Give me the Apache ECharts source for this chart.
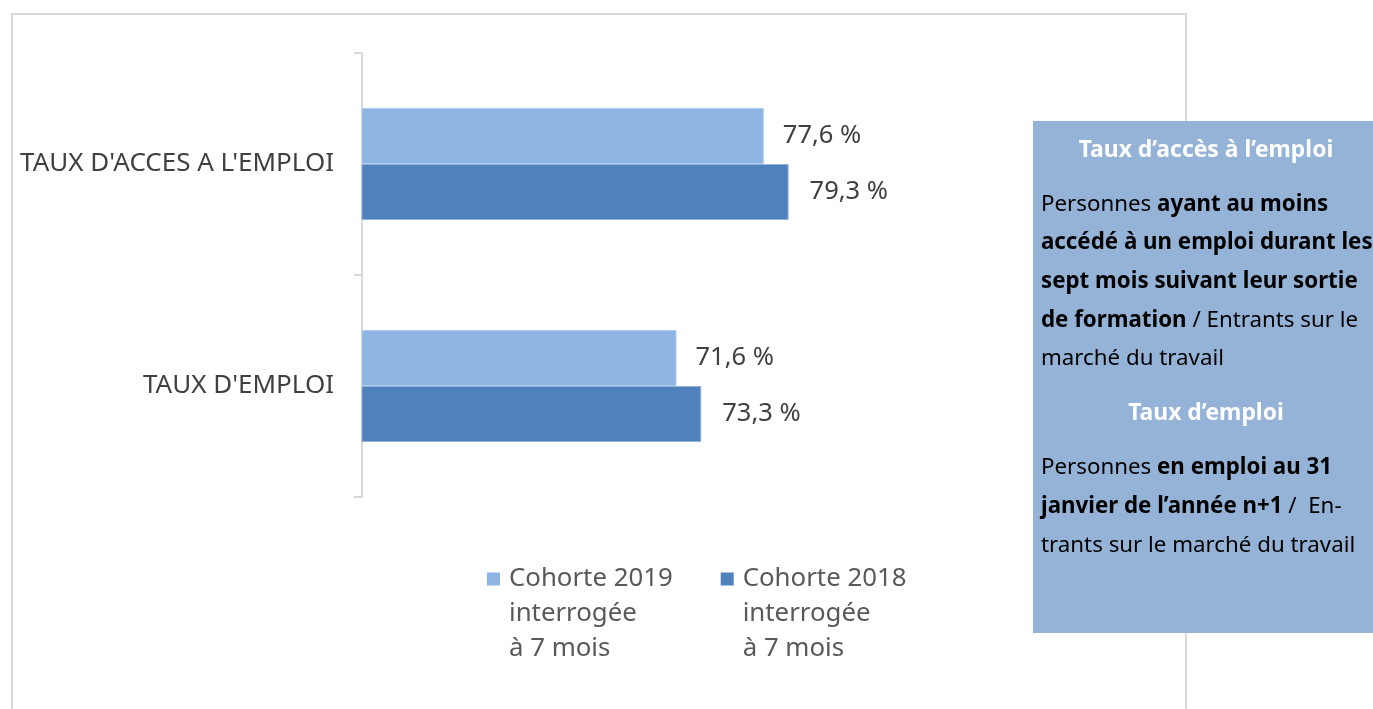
<!DOCTYPE html>
<html>
<head>
<meta charset="utf-8">
<script src="https://cdn.jsdelivr.net/npm/echarts@6/dist/echarts.min.js"></script>
<style>
html,body{margin:0;padding:0;background:#fff;}
#main{width:1373px;height:709px;}
</style>
</head>
<body>
<div id="main"></div>
<script>
var categories = ["TAUX D'ACCES A L'EMPLOI", "TAUX D'EMPLOI"];
var seriesNames = ["Cohorte 2019\ninterrogée\nà 7 mois", "Cohorte 2018\ninterrogée\nà 7 mois"];
var cohorte2019 = [77.6, 71.6];
var cohorte2018 = [79.3, 73.3];
var colors = ['#8EB4E3', '#4F81BD'];

var FONT = "'Noto Sans', 'Open Sans', sans-serif";

function fmt(p) { return p.value.toFixed(1).replace('.', ',') + ' %'; }

var chart = echarts.init(document.getElementById('main'));

var boxX = 1033, boxY = 121, boxW = 340, boxH = 512;
var tx = 1041;
var BS = 22.3;
var bodyRich = {
  n: { fontFamily: FONT, fontSize: BS, color: '#000', fontWeight: 'normal' },
  b: { fontFamily: FONT, fontSize: BS, color: '#000', fontWeight: 'bold' }
};
function line(y, str) {
  return { type: 'text', x: tx, y: y, z: 12,
    style: { text: str, rich: bodyRich, fontFamily: FONT, fontSize: BS, fill: '#000', verticalAlign: 'middle' } };
}
function title(y, str) {
  return { type: 'text', z: 12, x: boxX + boxW / 2 + 3, y: y,
    style: { text: str, fontFamily: FONT, fontSize: 22.9, fontWeight: 'bold', fill: '#fff', align: 'center', verticalAlign: 'middle' } };
}

var option = {
  backgroundColor: '#fff',
  animation: false,
  grid: { left: 362, right: 283, top: 53, bottom: 212, containLabel: false },
  xAxis: { type: 'value', min: 50, max: 100, show: false },
  yAxis: {
    type: 'category', data: categories, inverse: true,
    axisLine: { show: true, lineStyle: { color: '#d9d9d9', width: 2 } },
    axisTick: { show: true, length: 8, lineStyle: { color: '#d9d9d9', width: 2 } },
    axisLabel: { fontFamily: FONT, fontSize: 26, color: '#404040', margin: 28 },
    splitLine: { show: false }
  },
  legend: {
    left: 487, top: 496, itemGap: 48, itemWidth: 13, itemHeight: 13, textGap: 5,
    icon: 'rect', padding: 0, itemStyle: { borderWidth: 0 },
    formatter: function (name) {
      var parts = name.split('\n');
      return '{e| }\n{e| }\n' + parts.map(function (s) { return '{a|' + s + '}'; }).join('\n');
    },
    textStyle: {
      fontFamily: FONT, fontSize: 25.8, color: '#595959',
      rich: {
        a: { fontFamily: FONT, fontSize: 25.8, color: '#595959', lineHeight: 35, padding: [0, 0, 0, 4] },
        e: { fontFamily: FONT, fontSize: 25.8, lineHeight: 35 }
      }
    },
    data: seriesNames
  },
  series: [
    { name: seriesNames[0], type: 'bar', data: cohorte2019, barWidth: 56, barGap: '0%',
      itemStyle: { color: colors[0], borderColor: '#b4cdee', borderWidth: 1 },
      label: { show: true, position: 'right', distance: 19, formatter: fmt, fontFamily: FONT, fontSize: 25.5, color: '#404040' } },
    { name: seriesNames[1], type: 'bar', data: cohorte2018, barWidth: 56, barGap: '0%',
      itemStyle: { color: colors[1], borderColor: '#8fb0d8', borderWidth: 1 },
      label: { show: true, position: 'right', distance: 21, formatter: fmt, fontFamily: FONT, fontSize: 25.5, color: '#404040' } }
  ],
  graphic: [
    { type: 'rect', z: -1, shape: { x: 12, y: 14, width: 1174, height: 720 }, style: { fill: 'none', stroke: '#d9d9d9', lineWidth: 2 } },
    { type: 'rect', z: 10, shape: { x: boxX, y: boxY, width: boxW, height: boxH }, style: { fill: '#95B3D7' } },
    title(150, "Taux d’accès à l’emploi"),
    line(205, "{n|Personnes }{b|ayant au moins}"),
    line(243, "{b|accédé à un emploi durant les}"),
    line(282, "{b|sept mois suivant leur sortie}"),
    line(321, "{b|de formation}{n| / Entrants sur le}"),
    line(359, "{n|marché du travail}"),
    title(413, "Taux d’emploi"),
    line(468, "{n|Personnes }{b|en emploi au 31}"),
    line(507, "{b|janvier de l’année n+1}{n| /  En-}"),
    line(546, "{n|trants sur le marché du travail}")
  ]
};
chart.setOption(option);
</script>
</body>
</html>
